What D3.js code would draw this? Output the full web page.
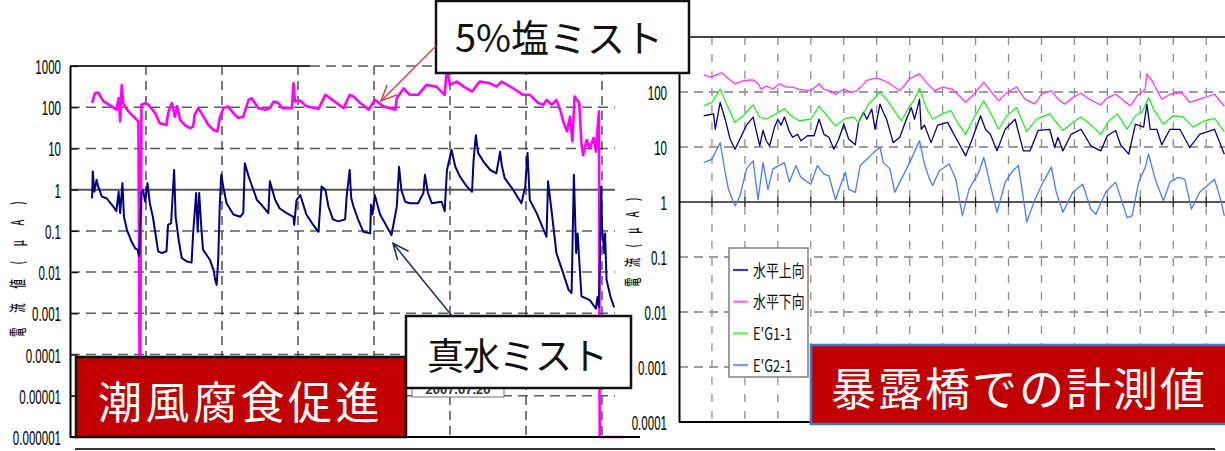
<!DOCTYPE html>
<html>
<head>
<meta charset="utf-8">
<script src="https://cdn.jsdelivr.net/npm/d3@7"></script>
<style>
  html, body { margin: 0; padding: 0; background: #fff; }
  svg { display: block; }
</style>
</head>
<body>
<svg id="chart" width="1225" height="451"></svg>
<script>
// ---------- tick values and labels ----------
const accelTicks = [1e-6, 1e-5, 1e-4, 1e-3, 1e-2, 1e-1, 1, 10, 100, 1000];
const accelTickLabels = ["0.000001", "0.00001", "0.0001", "0.001", "0.01", "0.1", "1", "10", "100", "1000"];
const accelDayGrid = [10, 20, 30, 40, 50, 60, 70];

const bridgeTicks = [1e-4, 1e-3, 1e-2, 1e-1, 1, 10, 100, 1000];
const bridgeTickLabels = ["0.0001", "0.001", "0.01", "0.1", "1", "10", "100", ""];
const bridgeDayGrid = [2, 4, 6, 8, 10, 12, 14, 16, 18, 20, 22, 24, 26, 28, 30, 32];

// ---------- accelerated test: [day, current µA] ----------
const saltMist = [[2.9,126],[3.3,219],[3.7,229],[4.4,138],[5.5,105],[6.1,87],[6.4,166],[6.6,45],[6.8,347],[7.0,126],[7.5,87],[8.1,66],[9.0,45],[9.2,1e-6],[9.4,115],[9.9,126],[10.3,115],[11.2,72],[11.8,41],[12.7,37],[12.9,72],[13.4,126],[13.8,59],[14.1,105],[14.5,49],[15.1,37],[15.8,31],[16.2,34],[16.4,66],[16.9,95],[17.3,72],[18.2,37],[18.9,28],[19.4,26],[19.7,55],[20.2,95],[20.8,105],[21.5,72],[22.1,55],[22.8,59],[23.5,151],[23.9,166],[24.8,95],[25.7,87],[26.3,95],[26.8,138],[27.4,126],[27.9,95],[29.2,95],[29.4,380],[29.6,138],[30.3,145],[31.1,105],[32.7,91],[33.6,200],[34.2,166],[36.0,95],[36.8,200],[37.3,182],[38.2,126],[39.3,87],[40.1,151],[41.2,105],[42.8,87],[43.0,166],[43.9,288],[44.7,200],[45.8,200],[46.9,347],[48.2,316],[49.3,200],[49.6,977],[50.0,347],[50.9,417],[51.8,316],[52.9,240],[53.9,417],[55.3,380],[56.1,316],[56.8,417],[58.3,288],[59.6,200],[60.5,200],[61.6,126],[62.3,115],[62.7,151],[63.4,115],[64.0,151],[64.5,87],[64.9,45],[65.4,26],[65.8,59],[66.1,15],[66.4,182],[67.0,126],[67.3,13],[67.5,6.9],[68.0,16],[68.4,10],[68.9,18],[69.2,8.3],[69.4,28],[69.6,79],[69.7,1e-6],[73.0,1e-6]];

const waterMist = [[2.9,0.62],[3.0,2.75],[3.2,0.89],[3.5,1.74],[3.7,1.2],[4.2,0.68],[4.8,0.62],[5.7,0.39],[6.1,0.30],[6.4,0.89],[6.6,0.27],[6.9,1.45],[7.1,0.22],[7.5,0.105],[8.1,0.055],[8.6,0.037],[8.9,0.035],[9.1,0.024],[9.4,0.83],[9.6,1.0],[9.9,0.51],[10.2,1.45],[10.5,0.47],[10.9,0.22],[11.6,0.032],[12.1,0.029],[12.7,0.032],[12.9,0.14],[13.3,0.155],[13.7,3.0],[13.9,0.22],[14.3,0.060],[14.7,0.022],[15.4,0.018],[16.0,0.017],[16.2,0.087],[16.4,0.27],[16.6,0.83],[16.8,0.095],[17.0,0.83],[17.3,0.105],[17.5,0.035],[18.4,0.020],[18.9,0.011],[19.1,0.0065],[19.3,0.0049],[19.5,0.020],[19.7,0.39],[19.9,2.3],[20.2,1.1],[20.6,0.47],[21.5,0.25],[22.4,0.22],[22.8,0.27],[23.0,4.4],[23.5,2.1],[23.9,1.3],[24.6,0.56],[25.2,0.43],[26.1,0.27],[26.3,1.6],[27.0,0.56],[27.6,0.35],[28.5,0.27],[29.4,0.22],[29.5,0.14],[29.8,0.56],[30.3,0.74],[31.1,0.25],[32.0,0.14],[32.7,0.095],[33.1,1.2],[33.6,1.0],[34.0,0.39],[34.6,0.19],[35.3,0.17],[36.2,0.19],[36.4,0.68],[36.8,3.0],[37.0,0.63],[37.3,0.39],[37.9,0.19],[38.6,0.095],[39.5,0.087],[39.6,0.43],[39.8,0.25],[40.1,0.74],[40.8,0.25],[41.7,0.126],[42.3,0.079],[43.0,0.39],[43.3,3.6],[43.6,0.98],[44.1,0.51],[44.7,0.47],[45.8,0.47],[46.5,0.83],[46.7,2.3],[47.1,0.83],[47.6,0.47],[48.9,0.51],[49.3,0.30],[49.6,3.0],[50.0,6.3],[50.2,9.3],[50.7,3.6],[51.3,2.1],[52.2,1.2],[52.9,0.89],[53.1,5.2],[53.4,21],[53.7,7.8],[54.4,4.8],[55.3,3.0],[56.1,2.5],[56.6,8.3],[56.8,4.0],[57.2,1.9],[58.3,1.0],[59.4,0.47],[59.9,1.2],[60.2,7.8],[60.5,0.56],[61.4,0.27],[62.7,0.072],[62.9,1.6],[63.4,0.27],[64.0,0.029],[64.9,0.0093],[65.6,0.0037],[66.0,0.0031],[66.3,2.3],[66.6,0.029],[66.8,0.087],[67.0,0.020],[67.3,0.0026],[68.4,0.0021],[69.2,0.0013],[69.4,0.0025],[69.6,0.0014],[69.9,1.2],[70.0,0.126],[70.3,0.029],[70.4,0.087],[70.6,0.0065],[71.1,0.0026],[71.6,0.0014]];

// ---------- exposure bridge: [day, current µA] ----------
const horizUp = [[1.5,37],[2.1,40],[2.2,21],[2.5,65],[2.8,32],[3.1,14],[3.4,9.1],[3.7,14],[4.1,25],[4.5,35],[4.7,19],[4.9,10.5],[5.1,20],[5.3,13],[5.5,10.5],[5.8,23],[6.0,32],[6.2,25],[6.4,35],[6.7,19],[6.9,15],[7.2,17],[7.4,13],[7.8,16],[8.2,16],[8.5,32],[8.8,17],[9.1,15],[9.4,9.1],[9.7,14],[10.0,26],[10.3,14],[10.7,11],[10.9,28],[11.2,43],[11.4,32],[11.7,49],[11.9,21],[12.2,60],[12.4,43],[12.6,32],[13.0,12],[13.4,15],[13.8,32],[14.1,52],[14.3,32],[14.6,74],[14.7,21],[14.9,25],[15.3,12],[15.7,25],[16.3,28],[16.6,19],[16.9,13],[17.4,6.9],[17.8,14],[18.3,37],[18.6,21],[18.9,17],[19.3,8.5],[19.8,21],[20.4,32],[20.9,8.5],[21.3,8.5],[21.8,20],[22.5,21],[22.8,9.8],[23.0,15],[23.3,8.5],[23.8,17],[24.4,21],[25.0,10.5],[25.6,8.5],[26.0,16],[26.5,20],[26.8,11],[27.3,7.4],[27.7,26],[28.2,23],[28.4,60],[28.6,21],[29.0,21],[29.3,11],[29.8,21],[30.4,21],[31.0,9.8],[31.6,17],[32.5,21],[33.1,7.4]];

const horizDown = [[1.5,204],[1.9,186],[2.2,200],[2.6,224],[3.0,174],[3.4,141],[3.7,151],[4.0,162],[4.5,166],[4.8,141],[5.0,112],[5.3,129],[5.7,112],[6.1,141],[6.5,123],[6.9,123],[7.3,112],[8.0,105],[8.5,141],[8.8,112],[9.2,105],[9.5,89],[9.8,105],[10.1,112],[10.4,98],[10.8,105],[11.1,129],[11.4,162],[12.0,178],[12.4,162],[12.8,141],[13.4,105],[14.0,174],[14.6,214],[15.0,151],[15.5,105],[16.0,123],[16.6,112],[17.4,65],[17.9,91],[18.5,151],[18.9,105],[19.4,69],[19.9,98],[20.5,123],[21.0,74],[21.6,60],[22.0,91],[22.6,105],[23.0,74],[23.4,60],[23.9,79],[24.4,95],[24.9,74],[25.6,58],[26.0,79],[26.5,91],[27.0,69],[27.4,56],[27.8,85],[28.3,112],[28.4,214],[28.7,162],[29.3,74],[29.8,91],[30.5,98],[31.0,65],[31.6,74],[32.5,91],[33.1,55]];

const eg1 = [[1.5,56],[2.0,65],[2.5,112],[2.9,60],[3.4,28],[3.9,37],[4.5,58],[4.9,35],[5.3,32],[5.9,40],[6.4,50],[6.8,37],[7.3,30],[8.0,32],[8.5,55],[8.9,40],[9.5,24],[10.1,33],[10.6,35],[10.9,28],[11.2,40],[11.5,60],[11.8,74],[12.2,98],[12.6,74],[13.0,49],[13.5,30],[13.9,49],[14.3,74],[14.6,117],[15.0,52],[15.4,32],[16.0,40],[16.5,46],[16.9,28],[17.4,17],[17.8,30],[18.5,69],[19.0,37],[19.4,21],[19.9,37],[20.5,52],[21.1,19],[21.7,32],[22.5,40],[22.9,28],[23.3,20],[23.9,28],[24.4,35],[25.0,25],[25.6,17],[26.1,30],[26.6,40],[27.2,21],[27.7,37],[28.1,43],[28.5,79],[28.8,49],[29.4,26],[30.0,37],[30.6,35],[31.2,23],[31.9,30],[32.5,33],[33.1,19]];

const eg2 = [[1.5,5.2],[2.0,6.0],[2.5,12],[2.8,3.5],[3.0,1.7],[3.4,0.85],[3.7,1.3],[4.1,4.0],[4.5,5.6],[4.8,1.1],[5.1,5.2],[5.4,1.7],[5.7,4.0],[6.4,5.2],[6.7,2.3],[7.1,4.6],[7.4,2.8],[8.0,2.1],[8.4,4.6],[8.8,3.2],[9.1,3.0],[9.5,1.1],[9.8,2.0],[10.1,3.5],[10.3,1.7],[10.7,1.5],[11.0,4.6],[11.4,6.0],[11.8,7.9],[12.2,9.8],[12.4,5.2],[12.8,4.0],[13.1,1.5],[13.4,2.3],[14.0,5.2],[14.6,13],[14.9,4.9],[15.2,2.6],[15.4,2.0],[15.8,3.7],[16.4,4.9],[16.8,2.6],[17.2,0.56],[17.6,1.7],[18.2,3.5],[18.5,6.5],[18.9,2.0],[19.3,0.65],[19.8,2.3],[20.2,3.5],[20.6,4.6],[21.0,0.74],[21.1,0.43],[21.6,1.1],[22.1,2.3],[22.6,4.3],[22.9,1.5],[23.3,0.65],[23.9,1.5],[24.5,2.1],[25.0,0.74],[25.3,0.60],[25.9,1.5],[26.5,2.3],[27.2,0.52],[27.5,0.56],[27.9,2.3],[28.3,4.3],[28.5,7.4],[28.9,2.6],[29.4,1.05],[29.8,2.3],[30.3,2.8],[30.7,2.6],[31.1,0.74],[31.6,1.5],[32.5,2.6],[32.9,1.05],[33.1,0.56]];

const bridgeSeries = [
  { name: "水平上向", data: horizUp,   color: "#000080" },
  { name: "水平下向", data: horizDown, color: "#ff33ff" },
  { name: "E'G1-1",   data: eg1,       color: "#22ee22" },
  { name: "E'G2-1",   data: eg2,       color: "#4a7cff" }
];

// ---------- drawing ----------
const svg = d3.select("#chart");
const CJK = "'Noto Sans CJK JP', 'Noto Sans', sans-serif";
const NUM = "'Liberation Sans', Arial, sans-serif";

// ===== accelerated test panel =====
const xA = d3.scaleLinear().domain([0, 75]).range([70, 640]);
const yA = d3.scaleLog().domain([1e-6, 1e3]).range([437, 66]);
const gA = svg.append("g");
const gridRightA = 615;

// horizontal gridlines
gA.selectAll("line.hgrid")
  .data(accelTicks.filter(v => v !== 1 && v !== 1e-6))
  .join("line")
  .attr("x1", xA(0)).attr("x2", gridRightA)
  .attr("y1", d => yA(d)).attr("y2", d => yA(d))
  .attr("stroke", "#5c5c5c").attr("stroke-width", 1.5)
  .attr("stroke-dasharray", "10,6");
gA.append("line")
  .attr("x1", xA(0)).attr("x2", gridRightA)
  .attr("y1", yA(1)).attr("y2", yA(1))
  .attr("stroke", "#555").attr("stroke-width", 2);
gA.append("line")
  .attr("x1", xA(0)).attr("x2", 310)
  .attr("y1", yA(1000)).attr("y2", yA(1000))
  .attr("stroke", "#333").attr("stroke-width", 2);

// vertical gridlines
gA.selectAll("line.vgrid")
  .data(accelDayGrid)
  .join("line")
  .attr("x1", d => xA(d)).attr("x2", d => xA(d))
  .attr("y1", yA(1000)).attr("y2", yA(1e-6))
  .attr("stroke", "#333").attr("stroke-width", 1.3)
  .attr("stroke-dasharray", "9,6");

// series
const lineA = d3.line().x(d => xA(d[0])).y(d => yA(d[1]));
gA.append("path").datum(saltMist)
  .attr("d", lineA).attr("fill", "none")
  .attr("stroke", "#ff00ff").attr("stroke-width", 2.6)
  .attr("stroke-linejoin", "round");
gA.append("path").datum(waterMist)
  .attr("d", lineA).attr("fill", "none")
  .attr("stroke", "#000080").attr("stroke-width", 2)
  .attr("stroke-linejoin", "round");

// axes
const axA = gA.append("g").attr("transform", `translate(${xA(0)},0)`)
  .call(d3.axisLeft(yA).tickValues(accelTicks)
        .tickFormat((d, i) => accelTickLabels[i])
        .tickSize(0).tickPadding(0));
axA.select(".domain").attr("stroke", "#000").attr("stroke-width", 2);
axA.selectAll("text")
  .attr("x", null).attr("dy", null)
  .attr("transform", "translate(-9,7.5) scale(0.55,1)")
  .attr("font-family", NUM).attr("font-size", 21).attr("fill", "#000");
gA.append("g").attr("transform", `translate(${xA(0)},0)`)
  .call(d3.axisRight(yA).tickValues(accelTicks).tickFormat("").tickSize(8))
  .call(g => g.select(".domain").remove())
  .selectAll("line").attr("stroke", "#111").attr("stroke-width", 1.3);
gA.append("line")
  .attr("x1", xA(0)).attr("x2", xA(75))
  .attr("y1", yA(1e-6)).attr("y2", yA(1e-6))
  .attr("stroke", "#000").attr("stroke-width", 2);

// y title
function verticalTitle(g, x, yBottom, text, spacing) {
  g.append("text")
    .attr("transform", `translate(${x},${yBottom}) rotate(-90) scale(0.55,1)`)
    .attr("font-family", CJK).attr("font-size", 17).attr("font-weight", 500)
    .style("letter-spacing", spacing + "px")
    .attr("fill", "#111")
    .text(text);
}
verticalTitle(gA, 24, 337, "電流値(μA)", 27);

// ===== exposure bridge panel =====
const xB = d3.scaleLinear().domain([0, 33.2]).range([679, 1226]);
const yB = d3.scaleLog().domain([1e-4, 1e3]).range([422, 37]);
const gB = svg.append("g");

gB.selectAll("line.hgrid")
  .data(bridgeTicks.filter(v => v !== 1 && v !== 1e-4 && v !== 1000))
  .join("line")
  .attr("x1", xB(0)).attr("x2", 1225)
  .attr("y1", d => yB(d)).attr("y2", d => yB(d))
  .attr("stroke", "#7f7f7f").attr("stroke-width", 1.3)
  .attr("stroke-dasharray", "9,6");
gB.selectAll("line.vgrid")
  .data(bridgeDayGrid)
  .join("line")
  .attr("x1", d => xB(d)).attr("x2", d => xB(d))
  .attr("y1", yB(1000)).attr("y2", yB(1e-4))
  .attr("stroke", "#909090").attr("stroke-width", 1.3)
  .attr("stroke-dasharray", "8,9");
gB.append("line")
  .attr("x1", xB(0)).attr("x2", 1225)
  .attr("y1", yB(1)).attr("y2", yB(1))
  .attr("stroke", "#222").attr("stroke-width", 1.5);
gB.selectAll("line.xtick")
  .data(bridgeDayGrid)
  .join("line")
  .attr("x1", d => xB(d)).attr("x2", d => xB(d))
  .attr("y1", yB(1) - 5).attr("y2", yB(1) + 5)
  .attr("stroke", "#222").attr("stroke-width", 1.3);
gB.append("line")
  .attr("x1", xB(0)).attr("x2", 1225)
  .attr("y1", yB(1000)).attr("y2", yB(1000))
  .attr("stroke", "#444").attr("stroke-width", 2);

const lineB = d3.line().x(d => xB(d[0])).y(d => yB(d[1]));
gB.selectAll("path.series")
  .data([bridgeSeries[3], bridgeSeries[0], bridgeSeries[2], bridgeSeries[1]])
  .join("path")
  .attr("d", d => lineB(d.data)).attr("fill", "none")
  .attr("stroke", d => d.color).attr("stroke-width", 1.3)
  .attr("stroke-linejoin", "round");

const axB = gB.append("g").attr("transform", `translate(${xB(0)},0)`)
  .call(d3.axisLeft(yB).tickValues(bridgeTicks)
        .tickFormat((d, i) => bridgeTickLabels[i])
        .tickSize(0).tickPadding(0));
axB.select(".domain").attr("stroke", "#000").attr("stroke-width", 2);
axB.selectAll("text")
  .attr("x", null).attr("dy", null)
  .attr("transform", "translate(-12,7.5) scale(0.55,1)")
  .attr("font-family", NUM).attr("font-size", 21).attr("fill", "#000");
gB.append("line")
  .attr("x1", xB(0)).attr("x2", 1225)
  .attr("y1", yB(1e-4)).attr("y2", yB(1e-4))
  .attr("stroke", "#000").attr("stroke-width", 2);

verticalTitle(gB, 639, 287, "電流(μA)", 19);

// legend
const leg = gB.append("g");
leg.append("rect")
  .attr("x", 729).attr("y", 248).attr("width", 79).attr("height", 129)
  .attr("fill", "#fff").attr("stroke", "#808080").attr("stroke-width", 1.5);
const rows = leg.selectAll("g.row").data(bridgeSeries).join("g")
  .attr("transform", (d, i) => `translate(733,${270 + i * 31.7})`);
rows.append("line").attr("x1", 0).attr("x2", 15)
  .attr("stroke", d => d.color).attr("stroke-width", 2.2).attr("opacity", 0.75);
rows.append("text")
  .attr("transform", "translate(20,6.5) scale(0.76,1)")
  .attr("font-family", CJK).attr("font-size", 17).attr("fill", "#111")
  .text(d => d.name);

// ===== overlays =====
const ov = svg.append("g");

// partly hidden legend of the accelerated test
ov.append("rect").attr("x", 412).attr("y", 376).attr("width", 92).attr("height", 21)
  .attr("fill", "#fff").attr("stroke", "#888").attr("stroke-width", 1.2);
ov.append("text").attr("x", 458).attr("y", 394).attr("text-anchor", "middle")
  .attr("font-family", NUM).attr("font-size", 13).attr("font-weight", "bold").attr("fill", "#333")
  .text("2007.07.20");

// red label boxes
function redBox(x, y, w, h, stroke, label, tx, ty, size, ls) {
  ov.append("rect").attr("x", x).attr("y", y).attr("width", w).attr("height", h)
    .attr("fill", "#c00000").attr("stroke", stroke).attr("stroke-width", 2.5);
  ov.append("text").attr("x", tx).attr("y", ty)
    .attr("font-family", CJK).attr("font-size", size).attr("fill", "#fff")
    .style("letter-spacing", ls + "px").text(label);
}
redBox(76, 357, 330, 80, "#111", "潮風腐食促進", 98, 419, 44, 3.5);
redBox(811, 345, 420, 79, "#3a7cc0", "暴露橋での計測値", 831, 406, 45, 2);

// callouts
function callout(x, y, w, h, label, tx, ty, size, ls) {
  ov.append("rect").attr("x", x).attr("y", y).attr("width", w).attr("height", h)
    .attr("fill", "#fff").attr("stroke", "#111").attr("stroke-width", 2.5);
  ov.append("text").attr("x", tx).attr("y", ty)
    .attr("font-family", CJK).attr("font-size", size).attr("fill", "#111")
    .style("letter-spacing", ls + "px").text(label);
}
callout(406, 316, 225, 72, "真水ミスト", 427, 370, 37, -1);
callout(436, 1, 253, 72, "5%塩ミスト", 455, 52, 38, 0);

// arrows
const defs = svg.append("defs");
function arrowMarker(id, color) {
  defs.append("marker").attr("id", id)
    .attr("markerUnits", "userSpaceOnUse")
    .attr("viewBox", "-18 -9 20 18").attr("refX", 0).attr("refY", 0)
    .attr("markerWidth", 20).attr("markerHeight", 18)
    .attr("orient", "auto")
    .append("path").attr("d", "M-16,-7L0,0L-16,7")
    .attr("fill", "none").attr("stroke", color).attr("stroke-width", 1.6);
}
arrowMarker("arrowSalt", "#c0504d");
arrowMarker("arrowWater", "#1f3864");
ov.append("line")
  .attr("x1", 436).attr("y1", 46)
  .attr("x2", xA(40.9)).attr("y2", yA(140))
  .attr("stroke", "#c0504d").attr("stroke-width", 1.6)
  .attr("marker-end", "url(#arrowSalt)");
ov.append("line")
  .attr("x1", 452).attr("y1", 316)
  .attr("x2", xA(42.5)).attr("y2", yA(0.05))
  .attr("stroke", "#1f3864").attr("stroke-width", 1.6)
  .attr("marker-end", "url(#arrowWater)");

// slide rule underneath
ov.append("line").attr("x1", 75).attr("x2", 1215).attr("y1", 449).attr("y2", 449)
  .attr("stroke", "#333").attr("stroke-width", 2);
</script>
</body>
</html>
